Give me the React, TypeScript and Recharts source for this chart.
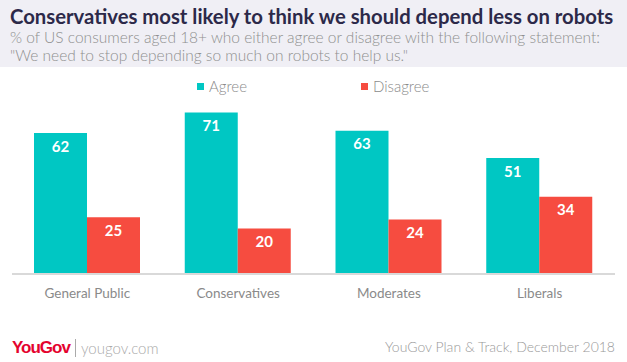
import { Bar, BarChart, LabelList, XAxis, YAxis } from "recharts";

const groups = ["General Public", "Conservatives", "Moderates", "Liberals"];
const agree = [62, 71, 63, 51];
const disagree = [25, 20, 24, 34];

const rows = groups.map((g, i) => ({ group: g, agree: agree[i], disagree: disagree[i] }));

const TEAL = "#00c7c3";
const RED = "#f64c40";
const FONT = "Lato, 'Open Sans', sans-serif";

function LegendBox() {
  const item = (color: string, label: string, left: number) => (
    <div style={{ position: "absolute", left, top: 0, display: "flex", alignItems: "center" }}>
      <span style={{ width: 7, height: 7, background: color, marginRight: 5 }} />
      <span style={{ fontSize: 15, color: "#8a8a8a", fontWeight: 300 }}>{label}</span>
    </div>
  );
  return (
    <div style={{ position: "absolute", left: 0, top: 77, width: 627, height: 20 }}>
      {item(TEAL, "Agree", 197)}
      {item(RED, "Disagree", 361)}
    </div>
  );
}

export default function App() {
  return (
    <div style={{ position: "absolute", left: 0, top: 0, width: 627, height: 362, background: "#fff", fontFamily: FONT, overflow: "hidden" }}>
      <div style={{ position: "absolute", left: 0, top: 0, width: 627, height: 67, background: "#f0eff5" }} />
      <div style={{ position: "absolute", left: 10, top: 4, fontSize: 20.3, fontWeight: 700, color: "#2c2949", whiteSpace: "nowrap" }}>
        Conservatives most likely to think we should depend less on robots
      </div>
      <div style={{ position: "absolute", left: 10, top: 28, fontSize: 15.5, fontWeight: 300, color: "#8f8f8f", lineHeight: "18px", whiteSpace: "nowrap" }}>
        % of US consumers aged 18+ who either agree or disagree with the following statement:
        <br />
        "We need to stop depending so much on robots to help us."
      </div>

      <div style={{ position: "absolute", left: 0, top: 0 }}>
        <BarChart width={627} height={320} data={rows} margin={{ top: 92, right: 12, left: 12, bottom: 16 }} barCategoryGap={22} barGap={0}>
          <XAxis
            dataKey="group"
            height={30}
            axisLine={{ stroke: "#d9d9d9", strokeWidth: 2 }}
            tickLine={false}
            tickMargin={8}
            tick={{ fill: "#8a8a8a", fontSize: 13.5, fontFamily: FONT }}
          />
          <YAxis hide domain={[0, 80]} />
          <Bar dataKey="agree" fill={TEAL} isAnimationActive={false}>
            <LabelList dataKey="agree" position="insideTop" offset={8} fill="#fff" fontSize={15} fontWeight={700} fontFamily={FONT} />
          </Bar>
          <Bar dataKey="disagree" fill={RED} isAnimationActive={false}>
            <LabelList dataKey="disagree" position="insideTop" offset={8} fill="#fff" fontSize={15} fontWeight={700} fontFamily={FONT} />
          </Bar>
        </BarChart>
      </div>
      <LegendBox />

      <div style={{ position: "absolute", left: 12, top: 338, display: "flex", alignItems: "center" }}>
        <span style={{ color: "#e4032e", fontWeight: 700, fontSize: 17, letterSpacing: -1, fontFamily: "Arial, 'Liberation Sans', sans-serif" }}>YouGov</span>
        <span style={{ width: 1, height: 18, background: "#aaa", margin: "0 5px 0 5px" }} />
        <span style={{ color: "#aaa", fontSize: 15, fontWeight: 300 }}>yougov.com</span>
      </div>
      <div style={{ position: "absolute", right: 12, top: 338, color: "#999", fontSize: 14, fontWeight: 300, whiteSpace: "nowrap" }}>
        YouGov Plan &amp; Track, December 2018
      </div>
    </div>
  );
}
